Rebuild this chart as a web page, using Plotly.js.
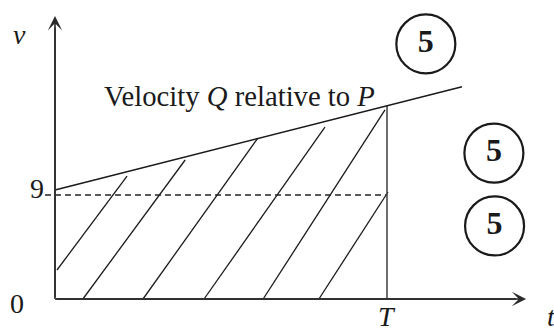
<!DOCTYPE html>
<html>
<head>
<meta charset="utf-8">
<script src="https://cdn.plot.ly/plotly-3.0.1.min.js"></script>
<style>
  html, body { margin: 0; padding: 0; background: #ffffff; }
  #chart { width: 554px; height: 332px; }
</style>
</head>
<body>
<div id="chart"></div>
<script>
const T = 10;
const relLineT = [0, 12.26];          // "Velocity Q relative to P" line
const relLineV = [9.43, 18.37];
const level9 = 9;                     // dashed level v = 9
const dashStartT = -0.3;
const hatchStartT = [0.06, 0.84, 2.65, 4.49, 6.27, 7.95];
const hatchStartV = [2.51, 0, 0, 0, 0, 0];
const hatchEndT   = [2.17, 3.92, 6.11, 8.13, 9.94, 10.03];
const hatchEndV   = [10.64, 12.03, 13.93, 14.88, 16.36, 9.26];
const axisEndT = 14.19;               // arrow tip of t-axis
const axisEndV = 24.49;               // arrow tip of v-axis
const tickLabels = ['0', '9', 'T'];
const axisLabels = ['v', 't'];
const lineLabel = 'Velocity <i>Q</i> relative to <i>P</i>';
const markLabels = ['5', '5', '5'];
const markT = [11.17, 13.22, 13.24];
const markV = [22.07, 12.63, 6.32];

// value of the relative-velocity line at T
const vAtT = relLineV[0] + (relLineV[1] - relLineV[0]) * (T - relLineT[0]) / (relLineT[1] - relLineT[0]);

// hatch segments joined with gaps
const hx = [], hy = [];
for (let i = 0; i < hatchStartT.length; i++) {
  hx.push(hatchStartT[i], hatchEndT[i], null);
  hy.push(hatchStartV[i], hatchEndV[i], null);
}

const serif = '"Liberation Serif"';
const ink = '#1a1a1a';
const axisInk = '#4a4a4a';

const traces = [
  { x: hx, y: hy, mode: 'lines', line: { color: ink, width: 1.3 }, connectgaps: false },
  { x: [dashStartT, T], y: [level9, level9], mode: 'lines', line: { color: '#222222', width: 1.3, dash: '6px,4px' } },
  { x: [T, T], y: [0, vAtT], mode: 'lines', line: { color: axisInk, width: 1.6 } },
  { x: relLineT, y: relLineV, mode: 'lines', line: { color: ink, width: 1.6 } },
  { x: [0, axisEndT - 0.3], y: [0, 0], mode: 'lines', line: { color: axisInk, width: 1.8 } },
  { x: [0, 0], y: [0, axisEndV - 1], mode: 'lines', line: { color: axisInk, width: 1.8 } },
  { x: markT, y: markV, mode: 'markers+text', text: markLabels, textposition: 'middle center',
    textfont: { family: serif, size: 32, color: ink, weight: 'bold' },
    marker: { symbol: 'circle-open', size: 59, color: ink, line: { color: ink, width: 2.2 } } }
];

const ann = [
  // axis arrows
  { x: axisEndT, y: 0, ax: 0, ay: 0, axref: 'x', ayref: 'y', xref: 'x', yref: 'y', text: '',
    showarrow: true, arrowhead: 3, arrowsize: 1.5, arrowwidth: 1.6, arrowcolor: '#2a2a2a' },
  { x: 0, y: axisEndV, ax: 0, ay: 0, axref: 'x', ayref: 'y', xref: 'x', yref: 'y', text: '',
    showarrow: true, arrowhead: 3, arrowsize: 1.5, arrowwidth: 1.6, arrowcolor: '#2a2a2a' },
  // tick labels
  { x: -1.14, y: -0.43, text: tickLabels[0], showarrow: false, font: { family: serif, size: 28, color: ink } },
  { x: -0.53, y: level9 + 0.55, text: tickLabels[1], showarrow: false, font: { family: serif, size: 28, color: ink } },
  { x: T, y: -1.5, text: '<i>' + tickLabels[2] + '</i>', showarrow: false, font: { family: serif, size: 28, color: ink } },
  // axis labels
  { x: -1.07, y: 22.89, text: '<i>' + axisLabels[0] + '</i>', showarrow: false, font: { family: serif, size: 28, color: ink } },
  { x: 14.94, y: -1.5, text: '<i>' + axisLabels[1] + '</i>', showarrow: false, font: { family: serif, size: 28, color: ink } },
  // line label
  { x: 1.42, y: 17.57, xanchor: 'left', yanchor: 'middle', text: lineLabel, showarrow: false,
    font: { family: serif, size: 28.7, color: ink } }
];

const layout = {
  width: 554, height: 332,
  margin: { l: 0, r: 0, t: 0, b: 0, pad: 0 },
  paper_bgcolor: '#ffffff', plot_bgcolor: '#ffffff',
  showlegend: false,
  xaxis: { range: [-55 / 33.2, 499 / 33.2], visible: false, fixedrange: true },
  yaxis: { range: [-33 / (104 / 9), 299 / (104 / 9)], visible: false, fixedrange: true },
  annotations: ann
};

Plotly.newPlot('chart', traces, layout, { staticPlot: true, displayModeBar: false });
</script>
</body>
</html>
